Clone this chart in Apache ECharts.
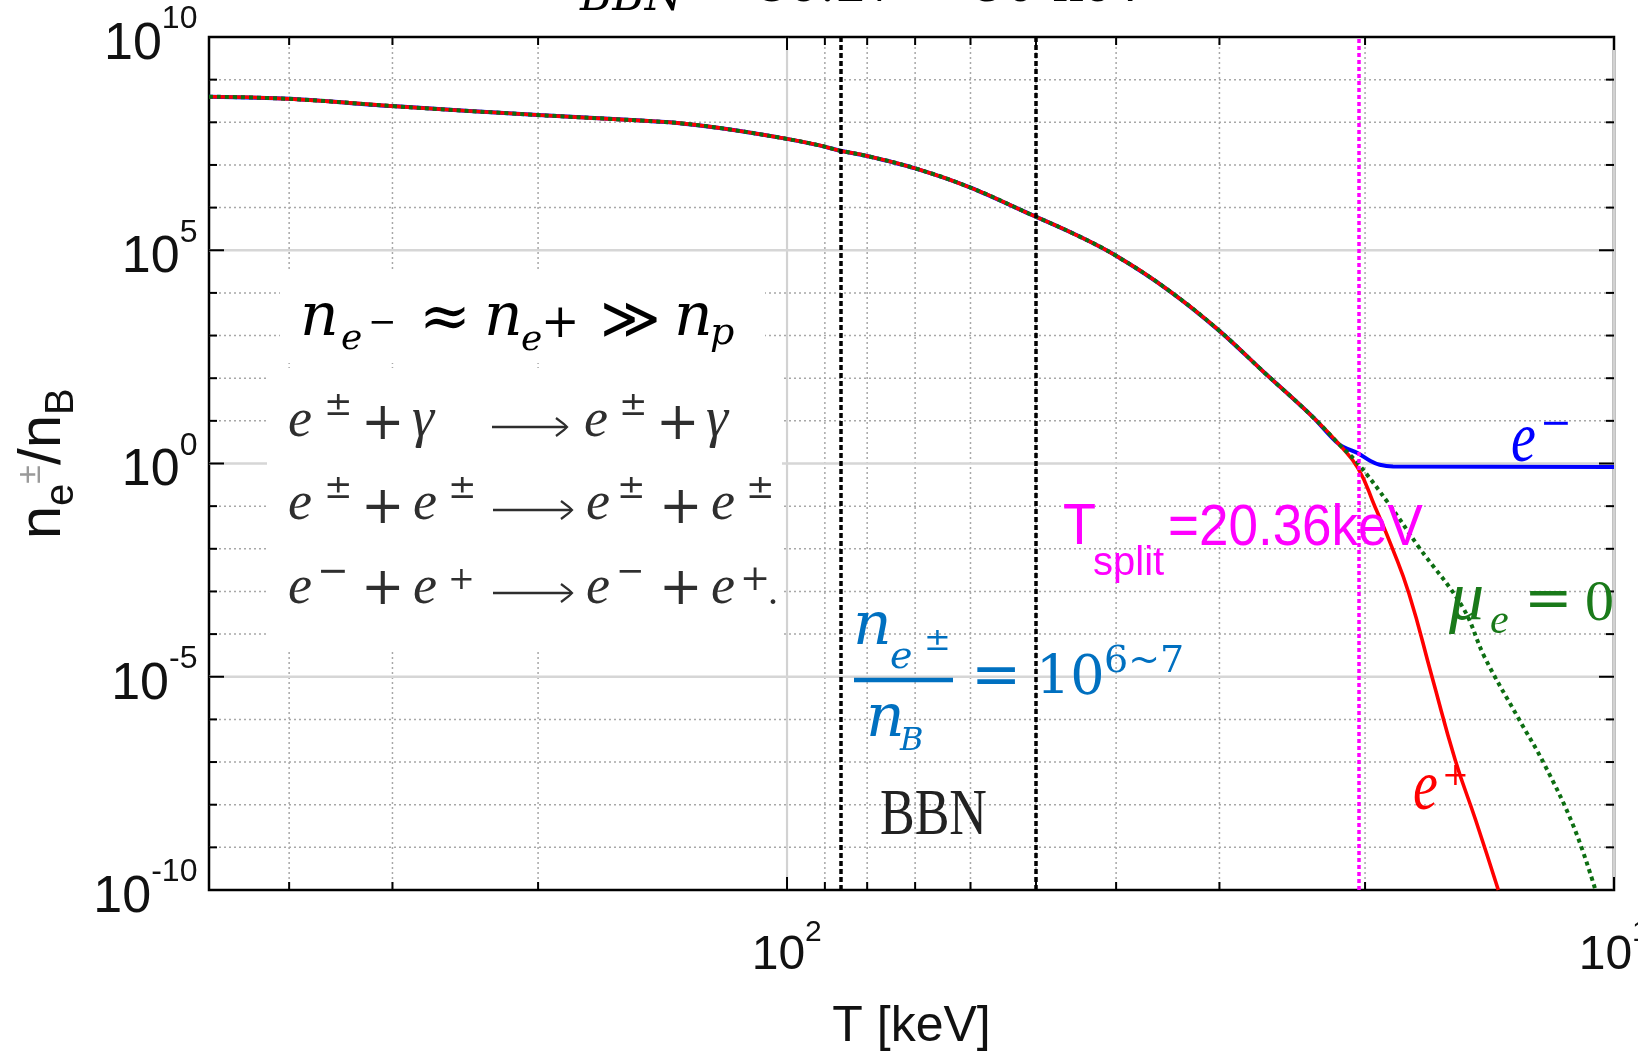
<!DOCTYPE html>
<html><head><meta charset="utf-8">
<script src="https://cdn.jsdelivr.net/npm/echarts@6/dist/echarts.min.js"></script>
<style>html,body{margin:0;padding:0;background:#fff}#c{width:1638px;height:1054px}</style>
</head><body><div id="c"></div>
<script>
// ---------------- data ----------------
// temperature T [keV] and log10(n/nB) along the common (unsplit) curve
const T_main    = [500, 400, 300, 200, 150, 135, 120, 102, 91.4, 86.5, 80, 70, 60, 51, 44.6, 40, 34.5, 30, 26.6, 23.1, 21.5];
const logN_main = [8.60, 8.55, 8.38, 8.17, 8.04, 7.98, 7.86, 7.64, 7.46, 7.34, 7.21, 6.92, 6.47, 5.86, 5.35, 4.87, 4.05, 3.11, 2.17, 1.08, 0.45];
// e- branch after split
const T_eMinusTail    = [20.4, 19.7, 19.2, 18.5, 10];
const logN_eMinusTail = [0.24, 0.06, -0.03, -0.07, -0.08];
// e+ branch after split
const T_ePlusTail    = [20.4, 19.45, 18.56, 17.7, 16.6, 15.56, 14.7, 13.8];
const logN_ePlusTail = [-0.11, -1.02, -1.96, -3.05, -5.0, -6.95, -8.36, -10.0];
// mu_e = 0 branch after split
const T_mu0Tail    = [20.4, 18.73, 17.22, 15.24, 14.33, 13.07, 12.15, 11.18, 10.53];
const logN_mu0Tail = [0.0, -0.94, -1.96, -3.37, -4.55, -5.95, -7.04, -8.53, -10.0];
// reference lines
const bbnLines = [86.2, 50];
const tSplit = 20.36;
// axes / ticks
const X_MIN = 10, X_MAX = 500, Y_MIN = 1e-10, Y_MAX = 1e10;
const xTickValues = [10, 100];
const xMinorValues = [20, 30, 40, 50, 60, 70, 80, 90, 200, 300, 400];
const yTickExps = [-10, -5, 0, 5, 10];
const yDecadeExps = [-9, -8, -7, -6, -5, -4, -3, -2, -1, 0, 1, 2, 3, 4, 5, 6, 7, 8, 9];

// ---------------- helpers ----------------
const SANS = '"Liberation Sans", Arial, Helvetica, sans-serif';
const SERIF = '"Liberation Serif", "Times New Roman", serif';
const DV = '"DejaVu Serif", serif';
const mk = (T, L) => T.map((t, i) => [t, Math.pow(10, L[i])]);
const eMinusData = mk(T_main.concat(T_eMinusTail), logN_main.concat(logN_eMinusTail));
const ePlusData  = mk(T_main.concat(T_ePlusTail),  logN_main.concat(logN_ePlusTail));
const mu0Data    = mk(T_main.concat(T_mu0Tail),    logN_main.concat(logN_mu0Tail));

const G = [];
function txt(x, base, t, size, o) {
  o = o || {};
  const sy = o.sy || 1;
  const font = (o.it ? 'italic ' : '') + (o.bold ? 'bold ' : '') + size + 'px ' + (o.ff || SERIF);
  G.push({
    type: 'text', x: x, y: base - 0.34 * size * sy, scaleY: sy, z: 20, silent: true,
    style: { text: t, font: font, fill: o.c || '#111', align: 'left', verticalAlign: 'middle',
             textAlign: 'left', textVerticalAlign: 'middle' }
  });
}
function sym(x, cy, t, size, o) { // symbol positioned by its visual centre
  o = Object.assign({ ff: DV }, o || {});
  txt(x, cy + 0.3 * size, t, size, o);
}
function arrow(x1, x2, y, c) {
  G.push({ type: 'line', z: 20, silent: true, shape: { x1: x1, y1: y, x2: x2, y2: y }, style: { stroke: c, lineWidth: 2.4 } });
  G.push({ type: 'polyline', z: 20, silent: true, shape: { points: [[x2 - 11, y - 9], [x2 - 3, y - 3], [x2, y], [x2 - 3, y + 3], [x2 - 11, y + 9]] }, style: { stroke: c, lineWidth: 2.2, fill: null } });
}

// white boxes behind the equations
G.push({ type: 'rect', z: 10, silent: true, shape: { x: 280, y: 270, width: 485, height: 93 }, style: { fill: '#fff' } });
G.push({ type: 'rect', z: 10, silent: true, shape: { x: 267, y: 368, width: 515, height: 284 }, style: { fill: '#fff' } });

// title (mostly cut off at the top)
txt(540, 5, 'T', 64, { it: 1, ff: DV, c: '#000' });
txt(580, 14, 'BBN', 44, { it: 1, ff: DV, c: '#000' });
txt(698, 5, '= 86.27 ~ 50 keV', 50, { ff: DV, c: '#000' });

// n_{e-} ≈ n_{e+} >> n_p   (Cambria-like: DejaVu Serif)
const K = '#000';
txt(300, 340, 'n', 60, { it: 1, ff: DV, c: K });
txt(341, 352, 'e', 36, { it: 1, ff: DV, c: K });
sym(368, 326, '−', 34, { c: K });
sym(419, 323, '≈', 62, { c: K });
txt(484, 340, 'n', 60, { it: 1, ff: DV, c: K });
txt(521, 353, 'e', 36, { it: 1, ff: DV, c: K });
sym(541, 327, '+', 46, { c: K });
sym(600, 325, '≫', 58, { c: K });
txt(674, 340, 'n', 60, { it: 1, ff: DV, c: K });
txt(710, 347, 'p', 38, { it: 1, ff: DV, c: K });

// reactions (LaTeX-like: Liberation Serif)
const R = '#2e2e2e';
// line 1
txt(288, 440, 'e', 54, { it: 1, c: R }); txt(324, 418, '±', 34, { ff: DV, c: R });
sym(361, 428, '+', 52, { c: R }); txt(412, 440, 'γ', 56, { it: 1, c: R });
arrow(492, 567, 427, R);
txt(584, 440, 'e', 54, { it: 1, c: R }); txt(619, 418, '±', 34, { ff: DV, c: R });
sym(656, 428, '+', 52, { c: R }); txt(706, 440, 'γ', 56, { it: 1, c: R });
// line 2
txt(288, 523, 'e', 54, { it: 1, c: R }); txt(324, 501, '±', 34, { ff: DV, c: R });
sym(361, 512, '+', 52, { c: R });
txt(413, 523, 'e', 54, { it: 1, c: R }); txt(448, 501, '±', 34, { ff: DV, c: R });
arrow(493, 572, 510, R);
txt(586, 523, 'e', 54, { it: 1, c: R }); txt(617, 501, '±', 34, { ff: DV, c: R });
sym(659, 512, '+', 52, { c: R });
txt(711, 523, 'e', 54, { it: 1, c: R }); txt(746, 501, '±', 34, { ff: DV, c: R });
// line 3
txt(288, 607, 'e', 54, { it: 1, c: R }); sym(317, 575, '−', 38, { c: R });
sym(361, 593, '+', 52, { c: R });
txt(413, 607, 'e', 54, { it: 1, c: R }); sym(448, 582, '+', 32, { c: R });
arrow(493, 572, 593, R);
txt(586, 607, 'e', 54, { it: 1, c: R }); sym(616, 575, '−', 34, { c: R });
sym(659, 593, '+', 52, { c: R });
txt(711, 607, 'e', 54, { it: 1, c: R }); sym(740, 582, '+', 36, { c: R });
txt(768, 607, '.', 40, { c: R });

// blue fraction n_{e±}/n_B = 10^{6~7}
const BL = '#0070c0';
txt(853, 649, 'n', 60, { it: 1, ff: DV, c: BL });
txt(890, 671, 'e', 38, { it: 1, ff: DV, c: BL });
txt(924, 653, '±', 32, { ff: DV, c: BL });
G.push({ type: 'line', z: 20, silent: true, shape: { x1: 854, y1: 680, x2: 953, y2: 680 }, style: { stroke: BL, lineWidth: 4.5 } });
txt(866, 741, 'n', 60, { it: 1, ff: DV, c: BL });
txt(900, 753, 'B', 32, { it: 1, ff: DV, c: BL });
sym(971, 681, '=', 60, { c: BL });
txt(1036, 698, '10', 54, { ff: DV, c: BL });
txt(1104, 675, '6~7', 38, { ff: DV, c: BL });

// BBN label
txt(880, 839, 'BBN', 52, { sy: 1.25, c: '#222' });

// T_split label
const MG = '#ff00ff';
txt(1063, 548, 'T', 54, { ff: SANS, sy: 1.07, c: MG });
txt(1093, 578, 'split', 40, { ff: SANS, c: MG });
txt(1168, 549, '=20.36keV', 53, { ff: SANS, sy: 1.08, c: MG });

// curve labels
txt(1511, 467, 'e', 56, { it: 1, sy: 1.3, c: '#0000ff' });
sym(1540, 427, '−', 38, { c: '#0000ff' });
txt(1413, 815, 'e', 56, { it: 1, sy: 1.3, c: '#ff0000' });
sym(1442, 778, '+', 32, { c: '#ff0000' });
const GR = '#1a7a1a';
txt(1449, 624, 'μ', 70, { it: 1, c: GR });
txt(1490, 636, 'e', 42, { it: 1, c: GR });
sym(1524, 604, '=', 58, { c: GR });
txt(1585, 624, '0', 58, { c: GR });

// ---------------- chart ----------------
const chart = echarts.init(document.getElementById('c'), null, { renderer: 'canvas' });
const supLabel = (v) => '{b|10}{s|' + Math.round(Math.log10(v)) + '}{z| }';

const option = {
  animation: false,
  backgroundColor: '#fff',
  grid: { left: 209, right: 24, top: 37, bottom: 164, containLabel: false, outerBoundsMode: 'none',
          show: true, borderColor: '#000', borderWidth: 2.5, backgroundColor: '#fff' },
  xAxis: {
    type: 'log', logBase: 10, min: X_MIN, max: X_MAX, inverse: true,
    axisLine: { show: false }, axisTick: { show: false }, splitLine: { show: false },
    name: 'T [keV]', nameLocation: 'middle', nameGap: 112,
    nameTextStyle: { fontSize: 50, fontFamily: SANS, color: '#111' },
    axisLabel: {
      customValues: xTickValues, margin: 28, hideOverlap: false, formatter: supLabel,
      rich: {
        b: { fontSize: 48, fontFamily: SANS, color: '#111', lineHeight: 48, verticalAlign: 'bottom' },
        s: { fontSize: 30, fontFamily: SANS, color: '#111', lineHeight: 30, verticalAlign: 'top' },
        z: { fontSize: 2, lineHeight: 62 }
      }
    }
  },
  yAxis: {
    type: 'log', logBase: 10, min: Y_MIN, max: Y_MAX,
    axisLine: { show: false }, axisTick: { show: false }, splitLine: { show: false },
    name: '{n|n}{sb|e}{sp|±}{n|/n}{sb|B}{z| }', nameLocation: 'middle', nameGap: 98, nameRotate: 90,
    nameTextStyle: { rich: {
      n: { fontSize: 60, fontFamily: SANS, color: '#111', lineHeight: 60, verticalAlign: 'top' },
      sb: { fontSize: 40, fontFamily: SANS, color: '#111', lineHeight: 40, verticalAlign: 'bottom' },
      sp: { fontSize: 34, fontFamily: SANS, color: '#9a9a9a', lineHeight: 34, verticalAlign: 'top' },
      z: { fontSize: 2, lineHeight: 69 }
    } },
    axisLabel: {
      customValues: yTickExps.map(e => Math.pow(10, e)), margin: 11, hideOverlap: false, formatter: supLabel,
      rich: {
        b: { fontSize: 52, fontFamily: SANS, color: '#111', lineHeight: 52, verticalAlign: 'bottom' },
        s: { fontSize: 32, fontFamily: SANS, color: '#111', lineHeight: 32, verticalAlign: 'top' },
        z: { fontSize: 2, lineHeight: 67 }
      }
    }
  },
  graphic: { elements: G },
  series: [
    { // vertical grid lines + x ticks
      type: 'custom', silent: true, z: 1,
      data: xTickValues.concat(xMinorValues).map(t => [t, Y_MIN]),
      renderItem: function (params, api) {
        const t = api.value(0);
        const top = api.coord([t, Y_MAX]), bot = api.coord([t, Y_MIN]);
        const major = xTickValues.indexOf(t) >= 0;
        const len = major ? 13 : 8;
        const ch = [];
        if (major) {
          ch.push({ type: 'line', shape: { x1: top[0], y1: top[1], x2: bot[0], y2: bot[1] }, style: { stroke: '#d2d2d2', lineWidth: 2.2 } });
        } else {
          ch.push({ type: 'line', shape: { x1: top[0], y1: top[1], x2: bot[0], y2: bot[1] }, style: { stroke: '#a8a8a8', lineWidth: 1.5, lineDash: [2, 3] } });
        }
        ch.push({ type: 'line', shape: { x1: bot[0], y1: bot[1], x2: bot[0], y2: bot[1] - len }, style: { stroke: '#000', lineWidth: 2 } });
        ch.push({ type: 'line', shape: { x1: top[0], y1: top[1], x2: top[0], y2: top[1] + len }, style: { stroke: '#000', lineWidth: 2 } });
        return { type: 'group', children: ch };
      }
    },
    { // horizontal grid lines + y ticks
      type: 'custom', silent: true, z: 1,
      data: yDecadeExps.map(e => [X_MAX, Math.pow(10, e)]),
      renderItem: function (params, api) {
        const v = api.value(1);
        const e = Math.round(Math.log10(v));
        const l = api.coord([X_MAX, v]), r = api.coord([X_MIN, v]);
        const major = yTickExps.indexOf(e) >= 0;
        const len = major ? 15 : 8;
        const ch = [];
        if (major) {
          ch.push({ type: 'line', shape: { x1: l[0], y1: l[1], x2: r[0], y2: r[1] }, style: { stroke: '#d6d6d6', lineWidth: 2.6 } });
        } else {
          ch.push({ type: 'line', shape: { x1: l[0], y1: l[1], x2: r[0], y2: r[1] }, style: { stroke: '#a8a8a8', lineWidth: 1.5, lineDash: [2, 3] } });
        }
        ch.push({ type: 'line', shape: { x1: l[0], y1: l[1], x2: l[0] + len, y2: l[1] }, style: { stroke: '#000', lineWidth: 2 } });
        ch.push({ type: 'line', shape: { x1: r[0], y1: r[1], x2: r[0] - len, y2: r[1] }, style: { stroke: '#000', lineWidth: 2 } });
        return { type: 'group', children: ch };
      }
    },
    { name: 'e-', type: 'line', z: 2, data: eMinusData, showSymbol: false, symbol: 'none', smooth: 0.3,
      lineStyle: { color: '#0000ff', width: 4 } },
    { name: 'e+', type: 'line', z: 3, data: ePlusData, showSymbol: false, symbol: 'none', smooth: 0.5,
      lineStyle: { color: '#ff0000', width: 3.6 } },
    { name: 'mu0', type: 'line', z: 4, data: mu0Data, showSymbol: false, symbol: 'none', smooth: 0.4,
      lineStyle: { color: '#0d6e12', width: 4, type: [4, 4] },
      markLine: {
        silent: true, symbol: 'none', label: { show: false }, animation: false,
        data: bbnLines.map(t => ({ xAxis: t, lineStyle: { color: '#000', width: 3.5, type: [5, 3] } }))
          .concat([{ xAxis: tSplit, lineStyle: { color: '#ff00ff', width: 3.5, type: [4, 3] } }])
      }
    }
  ]
};
chart.setOption(option);
</script>
</body></html>
